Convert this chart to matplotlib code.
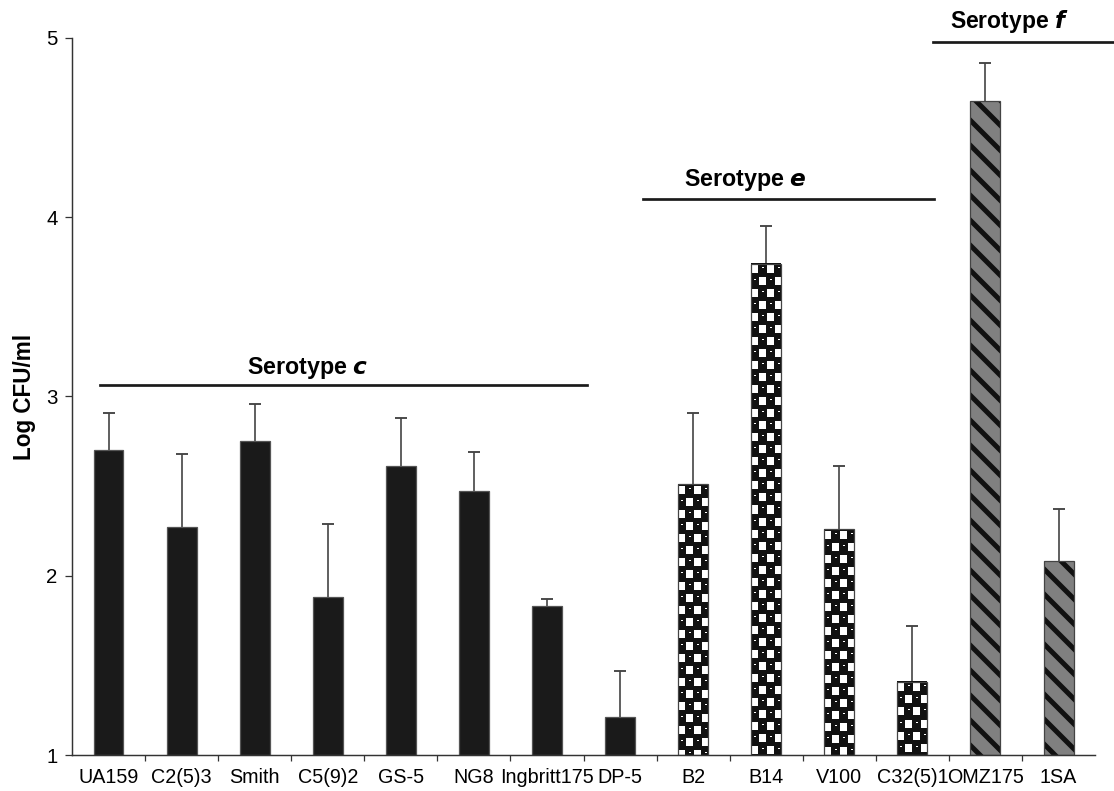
import matplotlib.pyplot as plt
import numpy as np

plt.rcParams['font.family'] = ['Liberation Sans', 'DejaVu Sans']
plt.rcParams['hatch.linewidth'] = 2.4

# data
strains = ['UA159', 'C2(5)3', 'Smith', 'C5(9)2', 'GS-5', 'NG8', 'Ingbritt175',
           'DP-5', 'B2', 'B14', 'V100', 'C32(5)1', 'OMZ175', '1SA']
log_cfu = [2.70, 2.27, 2.75, 1.88, 2.61, 2.47, 1.83,
           1.21, 2.51, 3.74, 2.26, 1.41, 4.65, 2.08]
err_up = [0.21, 0.41, 0.21, 0.41, 0.27, 0.22, 0.04,
          0.26, 0.40, 0.21, 0.35, 0.31, 0.21, 0.29]
serotype = ['c'] * 8 + ['e'] * 4 + ['f'] * 2

fig = plt.figure(figsize=(1114 / 150, 791 / 150), dpi=150)
ax = fig.add_axes([0.0646, 0.0455, 0.9184, 0.9065])
ax.set_xlim(-0.5, 13.5)
ax.set_ylim(1, 5)

x = np.arange(len(strains))
w = 0.41
base = 1
heights = [v - base for v in log_cfu]


def checker(wpx, hpx):
    # black background with white squares in a checkerboard
    r, c = np.indices((hpx, wpx))
    cr, cc = r // 12, c // 8
    ry, rx = r % 12, c % 8
    white = ((cr + cc) % 2 == 0) & (ry >= 2) & (ry < 10) & (rx < 7)
    dash = ((cr + cc) % 2 == 1) & (ry == 4) & (rx >= 3) & (rx < 5)
    img = np.full((hpx, wpx, 3), 0.07)
    img[white | dash] = 1.0
    return img


for i in range(len(strains)):
    s = serotype[i]
    if s == 'c':
        ax.bar(x[i], heights[i], w, bottom=base, color='#1a1a1a',
               edgecolor='#555555', linewidth=0.6, zorder=2)
    elif s == 'e':
        x0, x1 = x[i] - w / 2, x[i] + w / 2
        p0 = ax.transData.transform((x0, base))
        p1 = ax.transData.transform((x1, log_cfu[i]))
        wpx = max(int(round(p1[0] - p0[0])), 1)
        hpx = max(int(round(p1[1] - p0[1])), 1)
        ax.imshow(checker(wpx, hpx), extent=(x0, x1, base, log_cfu[i]),
                  aspect='auto', interpolation='nearest', zorder=2)
        ax.bar(x[i], heights[i], w, bottom=base, fill=False,
               edgecolor='#444444', linewidth=0.6, zorder=3)
    else:
        ax.bar(x[i], heights[i], w, bottom=base, color='#808080',
               edgecolor='#111111', hatch='\\\\', linewidth=0, zorder=2)
        ax.bar(x[i], heights[i], w, bottom=base, fill=False,
               edgecolor='#444444', linewidth=0.6, zorder=3)

# upper error bars only
tops = [v + e for v, e in zip(log_cfu, err_up)]
ax.vlines(x, log_cfu, tops, color='#444444', linewidth=0.8, zorder=1)
ax.plot(x, tops, linestyle='none', marker='_', markersize=5.5,
        markeredgewidth=0.9, color='#444444', zorder=1)

# serotype brackets
ax.plot([-0.12, 6.55], [3.063, 3.063], color='#1a1a1a', lw=1.3, clip_on=False)
ax.text(2.73, 3.16, 'Serotype $\\bfit{c}$', ha='center', va='center',
        fontsize=11.2, fontweight='bold')
ax.plot([7.32, 11.29], [4.10, 4.10], color='#1a1a1a', lw=1.3, clip_on=False)
ax.text(8.72, 4.21, 'Serotype $\\bfit{e}$', ha='center', va='center',
        fontsize=11.2, fontweight='bold')
ax.plot([11.28, 13.8], [4.98, 4.98], color='#1a1a1a', lw=1.3, clip_on=False)
ax.text(12.32, 5.09, 'Serotype $\\bfit{f}$', ha='center', va='center',
        fontsize=11, fontweight='bold', clip_on=False)

ax.set_xlim(-0.5, 13.5)
ax.set_ylim(1, 5)
ax.set_yticks([1, 2, 3, 4, 5])
ax.set_xticks(x)
ax.set_xticklabels(strains)
ax.set_xticks(np.arange(0.5, 13.5, 1), minor=True)
ax.tick_params(axis='x', which='major', length=0, labelsize=9.5, pad=6)
ax.tick_params(axis='x', which='minor', length=3, width=0.6, color='#333333')
ax.tick_params(axis='y', length=3.5, width=0.6, color='#333333', labelsize=9.8)
ax.set_ylabel('Log CFU/ml', fontsize=10.8, fontweight='bold', labelpad=5)

for sp in ['top', 'right']:
    ax.spines[sp].set_visible(False)
for sp in ['left', 'bottom']:
    ax.spines[sp].set_color('#333333')
    ax.spines[sp].set_linewidth(0.7)

fig.savefig('out.png', dpi=150)
